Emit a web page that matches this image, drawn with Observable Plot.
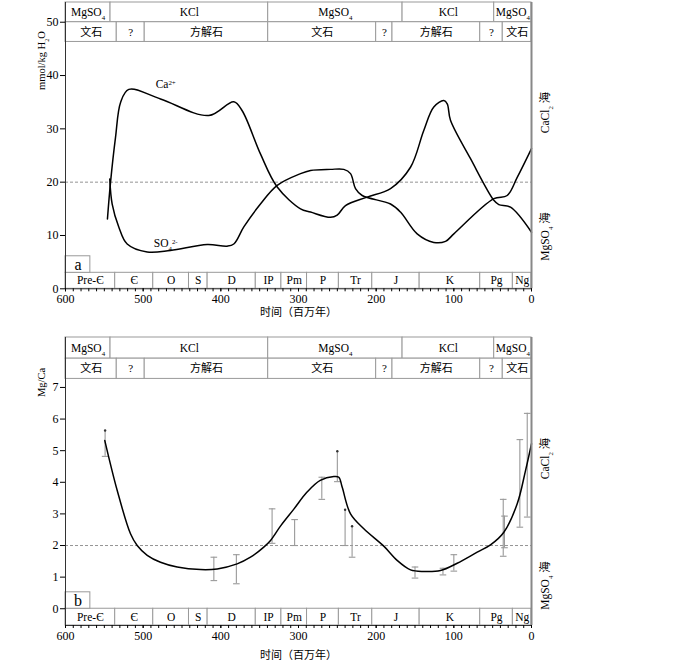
<!DOCTYPE html>
<html><head><meta charset="utf-8">
<script src="https://cdn.jsdelivr.net/npm/d3@7"></script>
<script src="https://cdn.jsdelivr.net/npm/@observablehq/plot@0.6"></script>
<style>body{margin:0;background:#fff} #chart svg{display:block}</style>
</head><body><div id="chart"></div>
<script>
// ---------- data ----------
const row1Bounds = [600, 542, 339, 166, 48, 0];
const row1Labels = ["MgSO_4", "KCl", "MgSO_4", "KCl", "MgSO_4"];
const row2Bounds = [600, 534, 498, 339, 200, 179, 66, 37, 0];
const row2Labels = ["文石", "?", "方解石", "文石", "?", "方解石", "?", "文石"];
const periodBounds = [600, 536, 487, 441, 417, 355, 322, 289, 248, 205, 144, 66, 24, 0];
const periodLabels = ["Pre-Є", "Є", "O", "S", "D", "IP", "Pm", "P", "Tr", "J", "K", "Pg", "Ng"];
const tagBounds = [600, 568];

// panel a: Ca2+ and SO4 2- (mmol/kg H2O) vs age (Ma)
const caAge = [546, 542, 535.6, 529, 518.5, 477.7, 415.5, 383.3, 372.5, 349, 327.4, 297.4, 284.5, 258.8, 250.2, 239.5, 211.6, 181.5, 155.8, 138.7, 125.8, 112.9, 108.5, 104.3, 78.5, 48.5, 42.1, 27, 0];
const caVal = [13.1, 20, 28.4, 35, 37.4, 35.6, 32.5, 35.1, 33.4, 25.3, 19.1, 15, 14.4, 13.4, 13.8, 15.6, 17.2, 18.8, 22.8, 29.7, 34.1, 35.3, 34.7, 31.6, 24.4, 16.6, 15.8, 15.3, 10.6];
const so4Age = [543, 539.9, 531.4, 520.6, 494.8, 464.8, 417.5, 391.8, 383.3, 370.4, 349, 327.4, 297.4, 284.5, 258.8, 241.7, 233, 226.6, 218, 181.5, 168.7, 147.2, 125.8, 110.7, 100, 48.5, 31.3, 18.4, 0];
const so4Val = [20.6, 15.9, 11.6, 8.4, 6.9, 7.2, 8.3, 8.0, 8.4, 11.6, 15.9, 19.4, 21.6, 22.2, 22.4, 22.4, 21.6, 18.8, 17.5, 15.9, 14.4, 10.3, 8.7, 8.9, 10.3, 16.9, 17.5, 20.9, 26.3];
const ionLabels = ["Ca^{2+}", "SO_4^{2-}"];
const ionLabelAge = [471, 471];
const ionLabelVal = [38.3, 8.6];

// panel b: Mg/Ca vs age (Ma)
const mgAge = [549.4, 533.4, 516.3, 507.7, 494.8, 477.7, 456.2, 426.2, 404.7, 379, 361.8, 344.7, 336, 323, 306, 289, 272, 254.5, 248.1, 243.7, 233, 215.9, 190.2, 173, 155.8, 138.7, 117.2, 95.7, 69.9, 52.8, 35.6, 18.4, 7.7, 0];
const mgVal = [5.32, 3.74, 2.37, 2.0, 1.69, 1.47, 1.32, 1.24, 1.26, 1.42, 1.63, 1.95, 2.16, 2.62, 3.15, 3.69, 4.06, 4.18, 4.16, 3.84, 3.0, 2.53, 1.98, 1.53, 1.23, 1.18, 1.21, 1.44, 1.79, 2.02, 2.42, 3.32, 4.37, 5.22];
const ebAge = [549, 409, 380, 334, 305, 270, 250, 240, 231, 150, 114, 100, 36.4, 34.8, 15, 5.5];
const ebLo  = [4.82, 0.89, 0.79, 2.07, 2.0, 3.46, 4.02, 2.0, 1.63, 0.97, 1.07, 1.19, 1.66, 1.93, 2.58, 2.9];
const ebHi  = [5.64, 1.63, 1.71, 3.16, 2.82, 4.16, 4.98, 3.13, 2.61, 1.32, 1.28, 1.71, 3.46, 2.93, 5.35, 6.18];
const ebTop = ["dot", "cap", "cap", "cap", "cap", "cap", "dot", "dot", "dot", "cap", "cap", "cap", "cap", "cap", "cap", "cap"];

// ---------- helpers ----------
const FONT = "'Liberation Serif','Times New Roman','Noto Sans CJK SC',serif";
const GRAY = "#9a9a9a";
const cells = (b, labels, y1, y2) => labels.map((label, i) => ({x1: b[i], x2: b[i + 1], y1, y2, label, xm: (b[i] + b[i + 1]) / 2, ym: (y1 + y2) / 2}));
const zip = (xs, ys) => xs.map((x, i) => ({x, y: ys[i]}));
const capSymbol = {draw(ctx) { ctx.moveTo(-3.3, 0); ctx.lineTo(3.3, 0); }};

function richify(svg) {
  const ns = "http://www.w3.org/2000/svg";
  d3.select(svg).selectAll("text").each(function () {
    const t = this.textContent;
    if (!/[_^]/.test(t)) return;
    const parts = t.split(/([_^]\{[^}]*\}|[_^].)/);
    while (this.firstChild) this.removeChild(this.firstChild);
    for (const p of parts) {
      if (!p) continue;
      const ts = document.createElementNS(ns, "tspan");
      if (p[0] === "_" || p[0] === "^") {
        ts.textContent = p.slice(1).replace(/[{}]/g, "");
        ts.setAttribute("font-size", "0.6em");
        ts.setAttribute("baseline-shift", p[0] === "_" ? "sub" : "super");
      } else ts.textContent = p;
      this.appendChild(ts);
    }
  });
  return svg;
}

function panel(cfg) {
  const r1 = cells(row1Bounds, row1Labels, cfg.row1[0], cfg.row1[1]);
  const r2 = cells(row2Bounds, row2Labels, cfg.row2[0], cfg.row2[1]);
  const per = cells(periodBounds, periodLabels, cfg.period[0], cfg.period[1]);
  const tag = cells(tagBounds, [cfg.tag], cfg.tagY[0], cfg.tagY[1]);
  const txt = {fontFamily: FONT};
  return richify(Plot.plot({
    width: 700, height: cfg.height,
    marginLeft: 65, marginRight: 169, marginTop: cfg.marginTop, marginBottom: cfg.marginBottom,
    style: {fontFamily: FONT, fontSize: "12px", background: "white", color: "black"},
    x: {domain: [600, 0]},
    y: {domain: [cfg.yMin, cfg.yMax]},
    marks: [
      Plot.ruleY([cfg.ref], {stroke: "#888", strokeDasharray: "3,2", strokeWidth: 0.9}),
      ...cfg.marks,
      Plot.rect(r1, {x1: "x1", x2: "x2", y1: "y1", y2: "y2", fill: "white", stroke: GRAY}),
      Plot.text(r1, {x: "xm", y: "ym", text: "label", fontSize: 11.5, ...txt}),
      Plot.rect(r2, {x1: "x1", x2: "x2", y1: "y1", y2: "y2", fill: "white", stroke: GRAY}),
      Plot.text(r2, {x: "xm", y: "ym", text: "label", fontSize: 11, ...txt}),
      Plot.rect(per, {x1: "x1", x2: "x2", y1: "y1", y2: "y2", fill: "white", stroke: GRAY}),
      Plot.text(per, {x: "xm", y: "ym", text: "label", fontSize: 11.5, ...txt}),
      Plot.rect(tag, {x1: "x1", x2: "x2", y1: "y1", y2: "y2", fill: "white", stroke: GRAY}),
      Plot.text(tag, {x: "xm", y: "ym", text: "label", fontSize: 16, ...txt}),
      Plot.ruleX([600], {y1: cfg.yMin, y2: cfg.yMax, stroke: "#333"}),
      Plot.ruleX([0], {y1: cfg.yMin, y2: cfg.yMax, stroke: "#888", strokeWidth: 2}),
      Plot.ruleY([cfg.yMin], {stroke: "#333"}),
      Plot.axisY({ticks: cfg.yTicks, tickSize: 5, tickPadding: 2, label: null, tickFormat: d3.format("d"), fontSize: 12}),
      Plot.axisX({ticks: d3.range(0, 601, 10), tickSize: 3, tickFormat: () => "", label: null}),
      Plot.axisX({ticks: d3.range(0, 601, 100), tickSize: 3, tickPadding: 3, tickFormat: d3.format("d"), label: null, fontSize: 12}),
      Plot.text([cfg.yLabel], {text: d => d, frameAnchor: "top-left", dx: -24, dy: cfg.yLabelDy, rotate: -90, textAnchor: "middle", lineAnchor: "middle", fontSize: 10.5}),
      Plot.text(["CaCl_2 海"], {text: d => d, frameAnchor: "top-right", dx: 14, dy: cfg.caclDy, rotate: -90, textAnchor: "middle", lineAnchor: "middle", fontSize: 11.5}),
      Plot.text(["MgSO_4 海"], {text: d => d, frameAnchor: "top-right", dx: 14, dy: cfg.mgsoDy, rotate: -90, textAnchor: "middle", lineAnchor: "middle", fontSize: 11.5}),
      Plot.text(["时间（百万年）"], {text: d => d, frameAnchor: "bottom", dy: cfg.xLabelDy, textAnchor: "middle", lineAnchor: "middle", fontSize: 11})
    ]
  }));
}

// ---------- panel a ----------
const ionLab = ionLabels.map((t, i) => ({t, x: ionLabelAge[i], y: ionLabelVal[i]}));
const svgA = panel({
  height: 320, marginTop: 2, marginBottom: 31.7, yMin: 0, yMax: 53.7,
  row1: [50, 53.7], row2: [46.3, 50], period: [0, 3], tagY: [3, 6.1], tag: "a",
  yTicks: d3.range(0, 51, 10), ref: 20,
  yLabel: "mmol/kg H_2O", yLabelDy: 58, caclDy: 110, mgsoDy: 234, xLabelDy: 24,
  marks: [
    Plot.line(zip(caAge, caVal), {x: "x", y: "y", curve: "catmull-rom", stroke: "black", strokeWidth: 1.5}),
    Plot.line(zip(so4Age, so4Val), {x: "x", y: "y", curve: "catmull-rom", stroke: "black", strokeWidth: 1.5}),
    Plot.text(ionLab, {x: "x", y: "y", text: "t", fontSize: 11.5, fontFamily: FONT})
  ]
});

// ---------- panel b ----------
const eb = ebAge.map((x, i) => ({x, lo: ebLo[i], hi: ebHi[i], top: ebTop[i]}));
const svgB = panel({
  height: 341, marginTop: 17, marginBottom: 36, yMin: -0.53, yMax: 8.58,
  row1: [7.91, 8.58], row2: [7.27, 7.91], period: [-0.53, 0], tagY: [0, 0.52], tag: "b",
  yTicks: d3.range(0, 8), ref: 2,
  yLabel: "Mg/Ca", yLabelDy: 45, caclDy: 121, mgsoDy: 248, xLabelDy: 30,
  marks: [
    Plot.ruleX(eb, {x: "x", y1: "lo", y2: "hi", stroke: "#999", strokeWidth: 1.1}),
    Plot.dot(eb, {x: "x", y: "lo", symbol: capSymbol, fill: "none", stroke: "#999", strokeWidth: 1.1}),
    Plot.dot(eb.filter(d => d.top === "cap"), {x: "x", y: "hi", symbol: capSymbol, fill: "none", stroke: "#999", strokeWidth: 1.1}),
    Plot.dot(eb.filter(d => d.top === "dot"), {x: "x", y: "hi", r: 1.2, fill: "#333", stroke: "none"}),
    Plot.line(zip(mgAge, mgVal), {x: "x", y: "y", curve: "catmull-rom", stroke: "black", strokeWidth: 1.5})
  ]
});

document.getElementById("chart").append(svgA, svgB);
</script></body></html>
